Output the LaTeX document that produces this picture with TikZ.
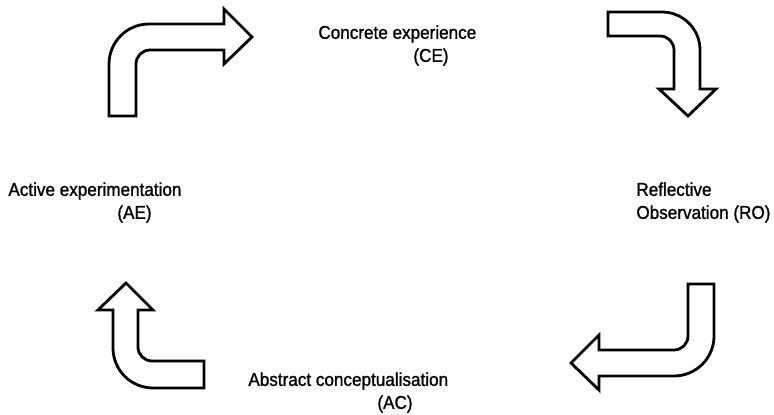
\documentclass[tikz,border=0pt]{standalone}
\usepackage{fontspec}
\setmainfont{Liberation Sans}[FakeStretch=0.92, FakeBold=1.2]
\usepackage{tikz}
\usetikzlibrary{positioning}
\tikzset{font=\fontsize{9.3}{11.5}\selectfont}
\tikzset{bentarrow/.style={draw=black, line width=1.4pt, fill=white, line join=miter}}
\tikzset{stage/.style={anchor=north west, inner sep=0pt, align=left}}

\begin{document}
\begin{tikzpicture}[x=0.5pt, y=-0.5pt]
  \useasboundingbox (0,0) rectangle (774,415);

  % up, then right
  \draw[bentarrow] (109,116) -- (109,64) arc[start angle=180, end angle=90, radius=20pt]
    -- (224,24) -- (224,9) -- (252,37) -- (224,64) -- (224,50) -- (150,50)
    arc[start angle=90, end angle=180, radius=7pt] -- (136,116) -- cycle;
  % right, then down
  \draw[bentarrow] (608,12) -- (662,12) arc[start angle=90, end angle=0, radius=19pt]
    -- (700,89) -- (716,89) -- (688,116) -- (659,89) -- (674,89) -- (674,50)
    arc[start angle=0, end angle=90, radius=7pt] -- (608,36) -- cycle;
  % down, then left
  \draw[bentarrow] (714,284) -- (714,336) arc[start angle=0, end angle=-90, radius=20pt]
    -- (599,376) -- (599,390) -- (571,363) -- (599,335) -- (599,350) -- (674,350)
    arc[start angle=-90, end angle=0, radius=7pt] -- (688,284) -- cycle;
  % left, then up
  \draw[bentarrow] (204,388) -- (153,388) arc[start angle=-90, end angle=-180, radius=20pt]
    -- (113,310) -- (98,310) -- (126,283) -- (153,310) -- (138,310) -- (138,347)
    arc[start angle=180, end angle=270, radius=7pt] -- (204,361) -- cycle;

  \node[stage] (ce) at (318,25) {Concrete experience\\\hspace*{47.5pt}(CE)};
  \node[stage] (ro) at (636,182) {Reflective\\Observation (RO)};
  \node[stage] (ac) at (248,372) {Abstract conceptualisation\\\hspace*{64.5pt}(AC)};
  \node[stage] (ae) at (8,182) {Active experimentation\\\hspace*{54.5pt}(AE)};
\end{tikzpicture}
\end{document}
